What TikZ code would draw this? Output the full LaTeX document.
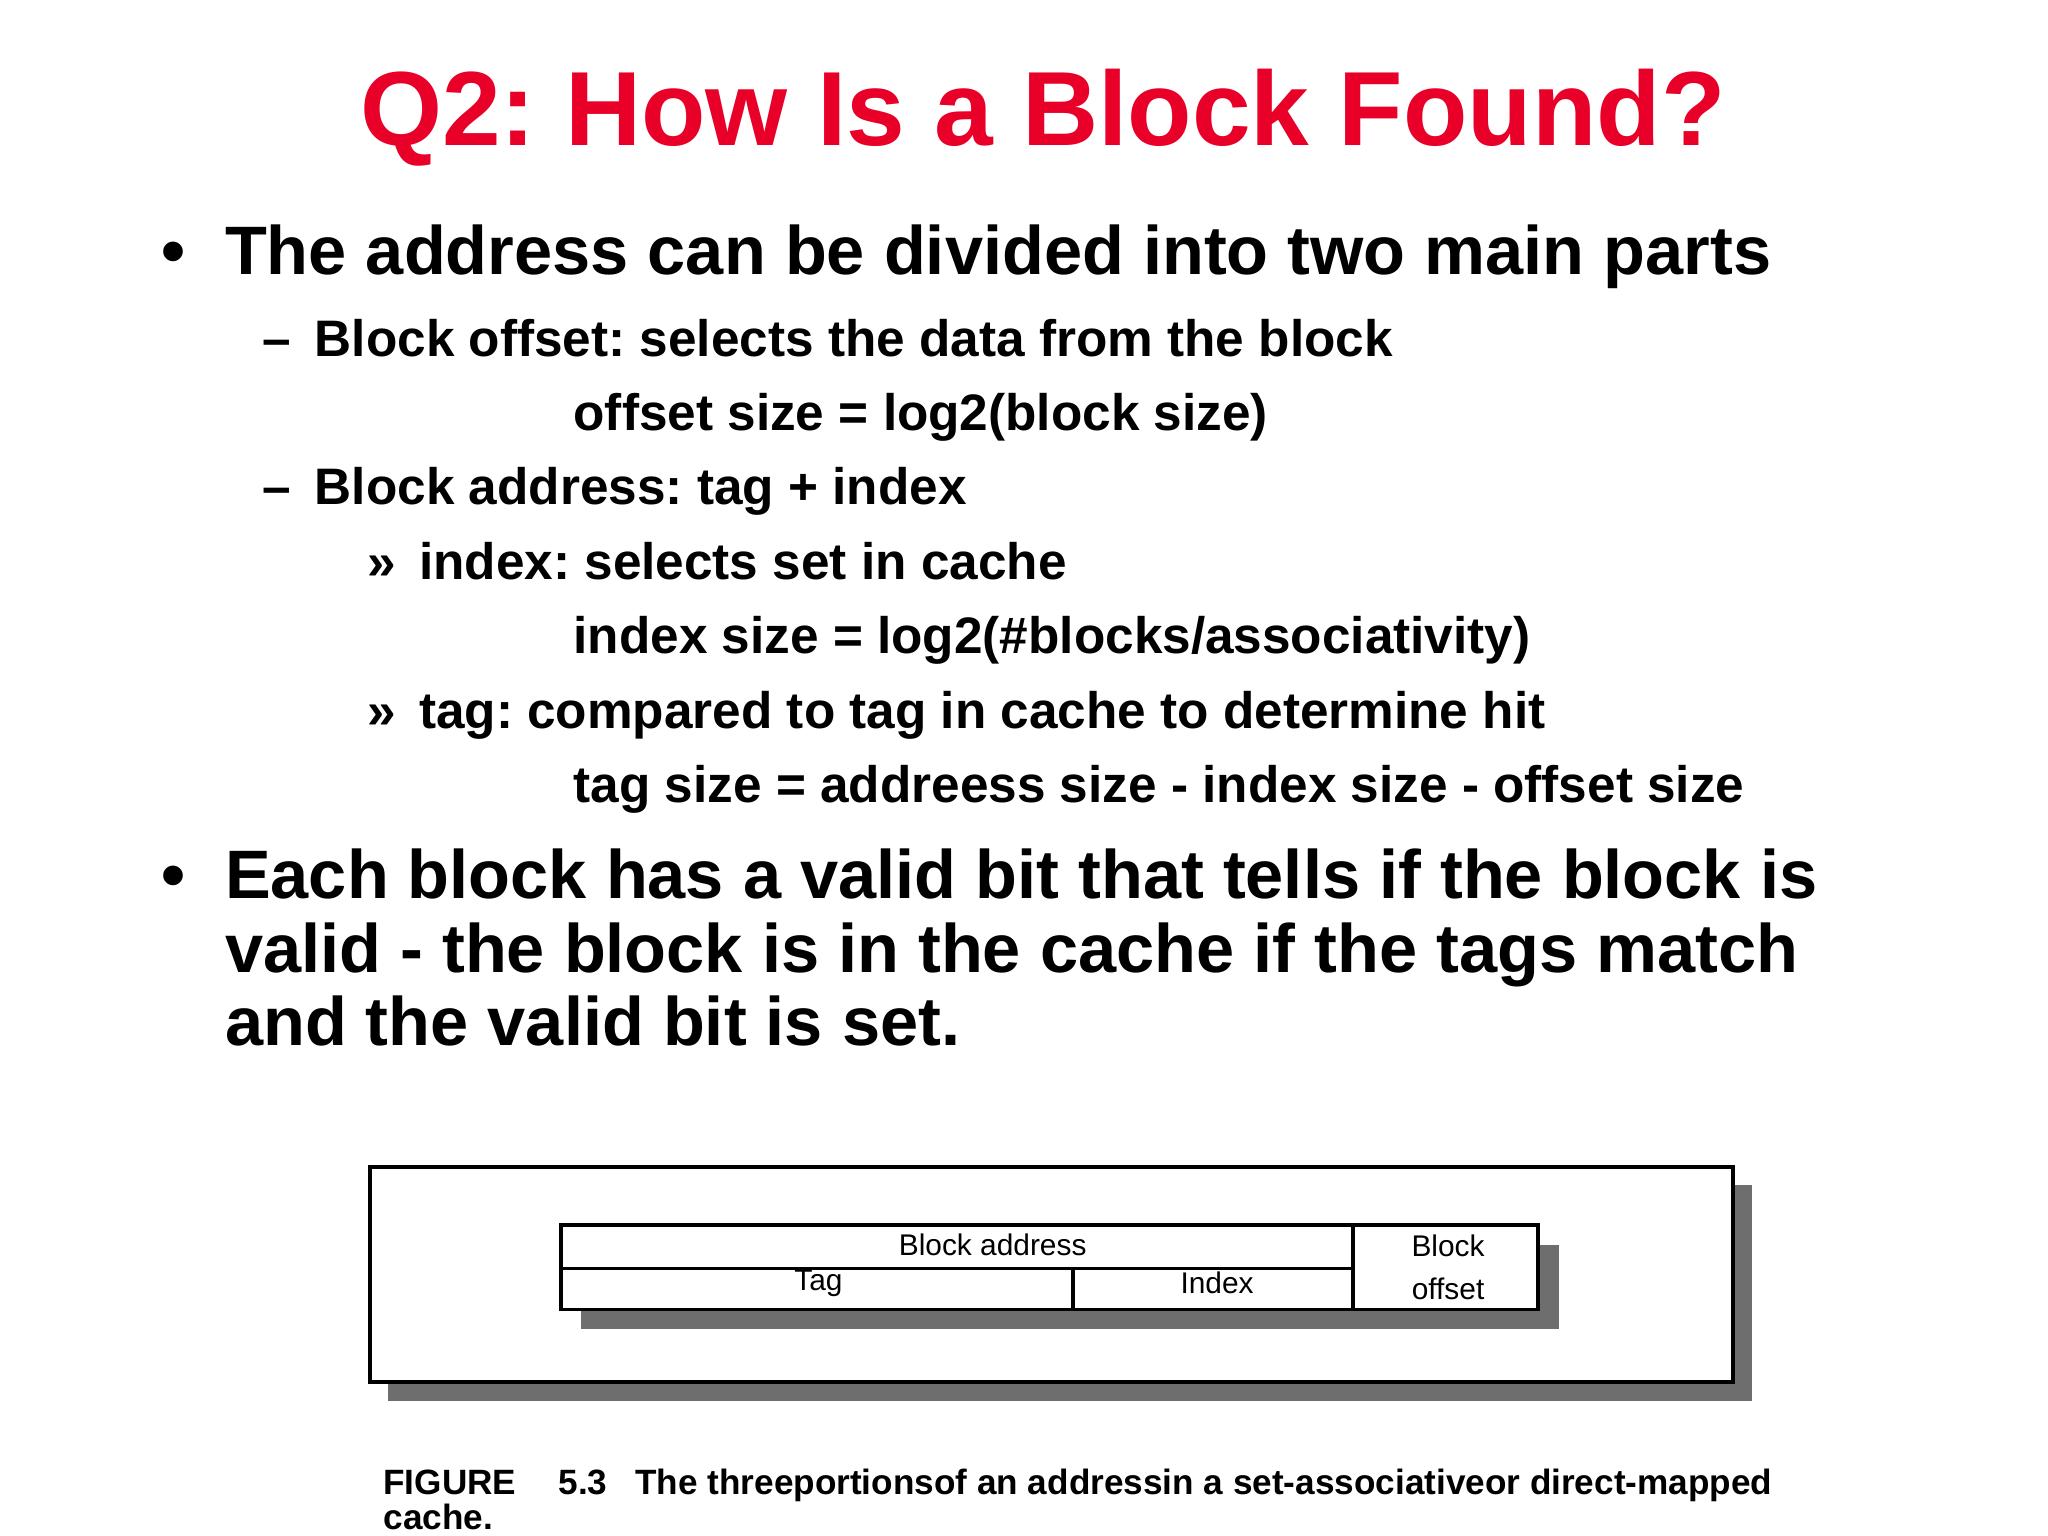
\documentclass[tikz,border=0pt]{standalone}
\usepackage{fontspec}
\setmainfont{Liberation Sans}
\definecolor{titlered}{RGB}{232,0,40}
\definecolor{shad}{RGB}{110,110,110}
\begin{document}
\frenchspacing
\begin{tikzpicture}[x=0.0132cm,y=-0.0132cm,
  t/.style={anchor=base west,inner sep=0pt,font=\bfseries},
  big/.style={t,font=\fontsize{19.5}{24}\bfseries\selectfont},
  mid/.style={t,font=\fontsize{14.6}{18}\bfseries\selectfont},
  sm/.style={inner sep=0pt,font=\fontsize{8.5}{10}\selectfont},
  captxt/.style={t,font=\fontsize{10}{12}\bfseries\selectfont}]
\useasboundingbox (0,0) rectangle (1551.5,1163.6);
\node[inner sep=0pt,anchor=base,text=titlered,font=\fontsize{30}{36}\bfseries\selectfont] (title) at (790,110) {Q2: How Is a Block Found?};
\node[big] (b1) at (122,208) {•};
\node[big] (l1) at (170,208) {The address can be divided into two main parts};
\node[mid] (d1) at (198,270) {–};
\node[mid] (l2) at (238,270) {Block offset: selects the data from the block};
\node[mid] (l3) at (434,326) {offset size = log2(block size)};
\node[mid] (d2) at (198,382) {–};
\node[mid] (l4) at (238,382) {Block address: tag + index};
\node[mid] (r1) at (278,439) {»};
\node[mid] (l5) at (317,439) {index: selects set in cache};
\node[mid] (l6) at (434,495) {index size = log2(\#blocks/associativity)};
\node[mid] (r2) at (278,552) {»};
\node[mid] (l7) at (317,552) {tag: compared to tag in cache to determine hit};
\node[mid] (l8) at (434,608) {tag size = addreess size - index size - offset size};
\node[big] (b2) at (122,681) {•};
\node[big] (l9) at (170,681) {Each block has a valid bit that tells if the block is};
\node[big] (l10) at (170,737) {valid - the block is in the cache if the tags match};
\node[big] (l11) at (170,792) {and the valid bit is set.};
% figure
\fill[shad] (294,898) rectangle (1327,1061);
\draw[line width=1.2pt,fill=white] (280,884) rectangle (1313,1047);
\fill[shad] (440,943) rectangle (1181,1007);
\draw[line width=1pt,fill=white] (425,928) rectangle (1025,992);
\draw[line width=1pt,fill=white] (1025,928) rectangle (1165,992);
\draw[line width=1pt] (425,961) -- (1025,961);
\draw[line width=1pt] (813,961) -- (813,992);
\node[sm] (ba) at (752,943) {Block address};
\node[sm] (tg) at (620,972) {Tag};
\node[sm] (ix) at (922,972) {Index};
\node[sm,align=center] (bo) at (1097,960) {Block\\[2pt]offset};
\node[captxt] (c1) at (290,1132) {FIGURE\hspace{1.2em}5.3\hspace{0.8em}The threeportionsof an addressin a set-associativeor direct-mapped};
\node[captxt] (c2) at (290,1159) {cache.};
\end{tikzpicture}
\end{document}
